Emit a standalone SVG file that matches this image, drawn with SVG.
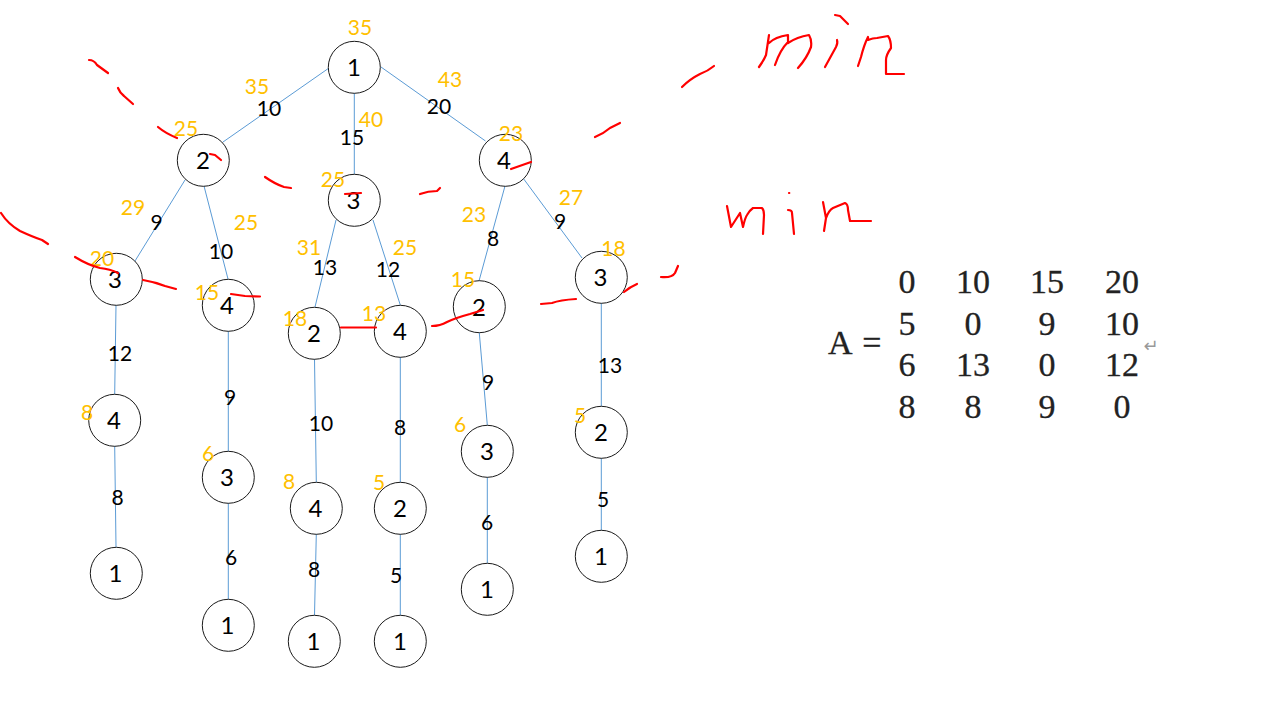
<svg xmlns="http://www.w3.org/2000/svg" width="1263" height="704" viewBox="0 0 1263 704">
<style>
text{font-family:"Lato","Liberation Sans",sans-serif;text-anchor:middle}
.n circle{fill:#fff;stroke:#1a1a1a;stroke-width:1}
.n text{font-size:24px;fill:#000}
#connectors line{stroke:#5B9BD5;stroke-width:1}
.w{font-size:21px;fill:#000}
.c{font-size:21px;fill:#FFC000}
#ink path{fill:none;stroke:#FF0000;stroke-width:2.2;stroke-linecap:round;stroke-linejoin:round}
.m{font-family:"Liberation Serif",serif;font-size:34px;fill:#222;stroke:#222;stroke-width:.3}
</style>
<rect width="1263" height="704" fill="#fff"/>
<g id="connectors">
<line x1="329" y1="68" x2="223" y2="142"/>
<line x1="354.3" y1="93" x2="354.3" y2="174"/>
<line x1="381" y1="67" x2="485.5" y2="141"/>
<line x1="185" y1="180" x2="135" y2="261"/>
<line x1="204" y1="186" x2="228" y2="279"/>
<line x1="336" y1="220" x2="315" y2="307"/>
<line x1="373" y1="220" x2="400.3" y2="305"/>
<line x1="505" y1="186" x2="479" y2="281"/>
<line x1="523" y1="178" x2="582" y2="258"/>
<line x1="116" y1="305" x2="114.7" y2="394"/>
<line x1="114.7" y1="446" x2="116" y2="547"/>
<line x1="228.3" y1="331" x2="228.3" y2="451"/>
<line x1="228.3" y1="503" x2="228.3" y2="599"/>
<line x1="314.5" y1="359" x2="316.3" y2="482"/>
<line x1="316.3" y1="534" x2="314.5" y2="615"/>
<line x1="400.3" y1="357" x2="400.3" y2="482"/>
<line x1="400.3" y1="534" x2="400.3" y2="615"/>
<line x1="479.3" y1="333" x2="487.3" y2="425"/>
<line x1="487.3" y1="477" x2="487.3" y2="563"/>
<line x1="601.3" y1="303" x2="601.3" y2="406"/>
<line x1="601.3" y1="458" x2="601.3" y2="530"/>
</g>
<g id="n1" class="n"><circle cx="354.3" cy="67.3" r="26"/><text x="354" y="76">1</text></g>
<g id="n2" class="n"><circle cx="203.3" cy="160.3" r="26"/><text x="203" y="169">2</text></g>
<g id="n3" class="n"><circle cx="354.3" cy="200.3" r="26"/><text x="353.5" y="209">3</text></g>
<g id="n4" class="n"><circle cx="505.3" cy="160.3" r="26"/><text x="504" y="169">4</text></g>
<g id="n5" class="n"><circle cx="116.3" cy="279.3" r="26"/><text x="115" y="288">3</text></g>
<g id="n6" class="n"><circle cx="228.3" cy="305.3" r="26"/><text x="227" y="314">4</text></g>
<g id="n7" class="n"><circle cx="314.3" cy="333.3" r="26"/><text x="314" y="342">2</text></g>
<g id="n8" class="n"><circle cx="400.3" cy="331.3" r="26"/><text x="400" y="340">4</text></g>
<g id="n9" class="n"><circle cx="479.3" cy="306.7" r="26"/><text x="479" y="315.5">2</text></g>
<g id="n10" class="n"><circle cx="601.3" cy="277.3" r="26"/><text x="600.5" y="286">3</text></g>
<g id="n11" class="n"><circle cx="114.7" cy="420.3" r="26"/><text x="114" y="429">4</text></g>
<g id="n12" class="n"><circle cx="228.3" cy="477.3" r="26"/><text x="227" y="486">3</text></g>
<g id="n13" class="n"><circle cx="316.3" cy="508.3" r="26"/><text x="315.5" y="517">4</text></g>
<g id="n14" class="n"><circle cx="400.3" cy="508.3" r="26"/><text x="400" y="517">2</text></g>
<g id="n15" class="n"><circle cx="487.3" cy="451.3" r="26"/><text x="487" y="460">3</text></g>
<g id="n16" class="n"><circle cx="601.3" cy="432.3" r="26"/><text x="601" y="441">2</text></g>
<g id="n17" class="n"><circle cx="116.3" cy="573.3" r="26"/><text x="115.5" y="582">1</text></g>
<g id="n18" class="n"><circle cx="228.3" cy="625.3" r="26"/><text x="227.5" y="634">1</text></g>
<g id="n19" class="n"><circle cx="314.3" cy="641.3" r="26"/><text x="313.5" y="650">1</text></g>
<g id="n20" class="n"><circle cx="400.3" cy="641.3" r="26"/><text x="400" y="650">1</text></g>
<g id="n21" class="n"><circle cx="487.3" cy="589.3" r="26"/><text x="487" y="598">1</text></g>
<g id="n22" class="n"><circle cx="601.3" cy="556.3" r="26"/><text x="601" y="565">1</text></g>
<g id="weights" class="w">
<text x="269" y="115.5">10</text><text x="352" y="145">15</text><text x="439" y="113.5">20</text>
<text x="156.5" y="229.5">9</text><text x="221" y="258.5">10</text><text x="325" y="274.5">13</text>
<text x="388" y="276.5">12</text><text x="493" y="245.5">8</text><text x="560" y="228.5">9</text>
<text x="120" y="360.5">12</text><text x="230" y="404.5">9</text><text x="321" y="430.5">10</text>
<text x="400" y="434.5">8</text><text x="488" y="389.5">9</text><text x="610" y="372.5">13</text>
<text x="117.5" y="504.5">8</text><text x="231" y="564.5">6</text><text x="314" y="576.5">8</text>
<text x="396" y="582.5">5</text><text x="487" y="529.5">6</text><text x="603" y="506.5">5</text>
</g>
<g id="costs" class="c">
<text x="360" y="35">35</text><text x="257" y="94">35</text><text x="450" y="87">43</text>
<text x="186" y="136">25</text><text x="371" y="127">40</text><text x="511" y="141">23</text>
<text x="333" y="187">25</text><text x="133" y="215">29</text><text x="246" y="230">25</text>
<text x="571" y="205">27</text><text x="474" y="222">23</text><text x="309" y="255">31</text>
<text x="405" y="255">25</text><text x="102" y="266">20</text><text x="207" y="300">15</text>
<text x="295" y="326">18</text><text x="374" y="321">13</text><text x="463" y="287">15</text>
<text x="613.5" y="256">18</text><text x="87" y="420">8</text><text x="208" y="461">6</text>
<text x="289" y="489">8</text><text x="379" y="490">5</text><text x="460" y="432">6</text>
<text x="580" y="423">5</text>
</g>
<g id="matrix">
<text class="m" x="828" y="354" style="text-anchor:start;word-spacing:3px">A =</text>
<text class="m" x="907" y="293">0</text><text class="m" x="973" y="293">10</text><text class="m" x="1047" y="293">15</text><text class="m" x="1122" y="293">20</text>
<text class="m" x="907" y="335">5</text><text class="m" x="973" y="335">0</text><text class="m" x="1047" y="335">9</text><text class="m" x="1122" y="335">10</text>
<text class="m" x="907" y="376">6</text><text class="m" x="973" y="376">13</text><text class="m" x="1047" y="376">0</text><text class="m" x="1122" y="376">12</text>
<text class="m" x="907" y="418">8</text><text class="m" x="973" y="418">8</text><text class="m" x="1047" y="418">9</text><text class="m" x="1122" y="418">0</text>
<text x="1151" y="352" style="font-family:'DejaVu Sans',sans-serif;font-size:18px;fill:#999">↵</text>
</g>
<g id="ink">
<path d="M89 60Q94 60 97 65L108 73"/>
<path d="M118 88Q120 93 124 96L133 104"/>
<path d="M158 127Q165 133 177 138"/>
<path d="M210 154L215 155L221 160"/>
<path d="M265 177Q275 184 284 187L291 188"/>
<path d="M345 194L361 193"/>
<path d="M1 213Q8 224 20 231Q33 237 42 240L48 244"/>
<path d="M75 257Q88 265 100 268Q110 269 118 273"/>
<path d="M143 280Q155 282 165 286L176 289"/>
<path d="M231 294L245 296L260 296.5"/>
<path d="M341 327.5H376"/>
<path d="M432 326Q440 326 447 322Q455 318 470 314L483 310"/>
<path d="M420 194Q428 191 437 191L440 188"/>
<path d="M511 169L531 162"/>
<path d="M541 304L552 303Q560 300 576 299"/>
<path d="M624 292Q630 287 637 284"/>
<path d="M661 277Q672 278 675 273L678 266"/>
<path d="M595 137Q603 134 610 128L620 123"/>
<path d="M682 87Q690 79 700 74Q708 71 714 66"/>
<path d="M769 35L766 55Q764 60 759 67M769 43Q775 37 788 35L788 42Q780 50 775 65M788 43Q797 37 809 35Q812 40 811 47Q807 58 798 68"/>
<path d="M825 67L836 47Q838 43 837 40M835 15L840 16L848 24"/>
<path d="M858 66L861 57Q864 45 868 37V40Q873 38 877 38L888 36Q891 40 891 48Q886 55 886 60V74H904"/>
<path d="M727 206L731 227L740 213L743 227Q745 218 747 215Q750 210 753 208H762Q764 210 764 215L763 234"/>
<path d="M788 210Q792 210 792 213L794 234M789 193L789.3 193"/>
<path d="M823 202L826 218L824 231M826 218Q829 210 833 208L845 203Q848 204 848 210L850 221H871"/>
</g>
</svg>
